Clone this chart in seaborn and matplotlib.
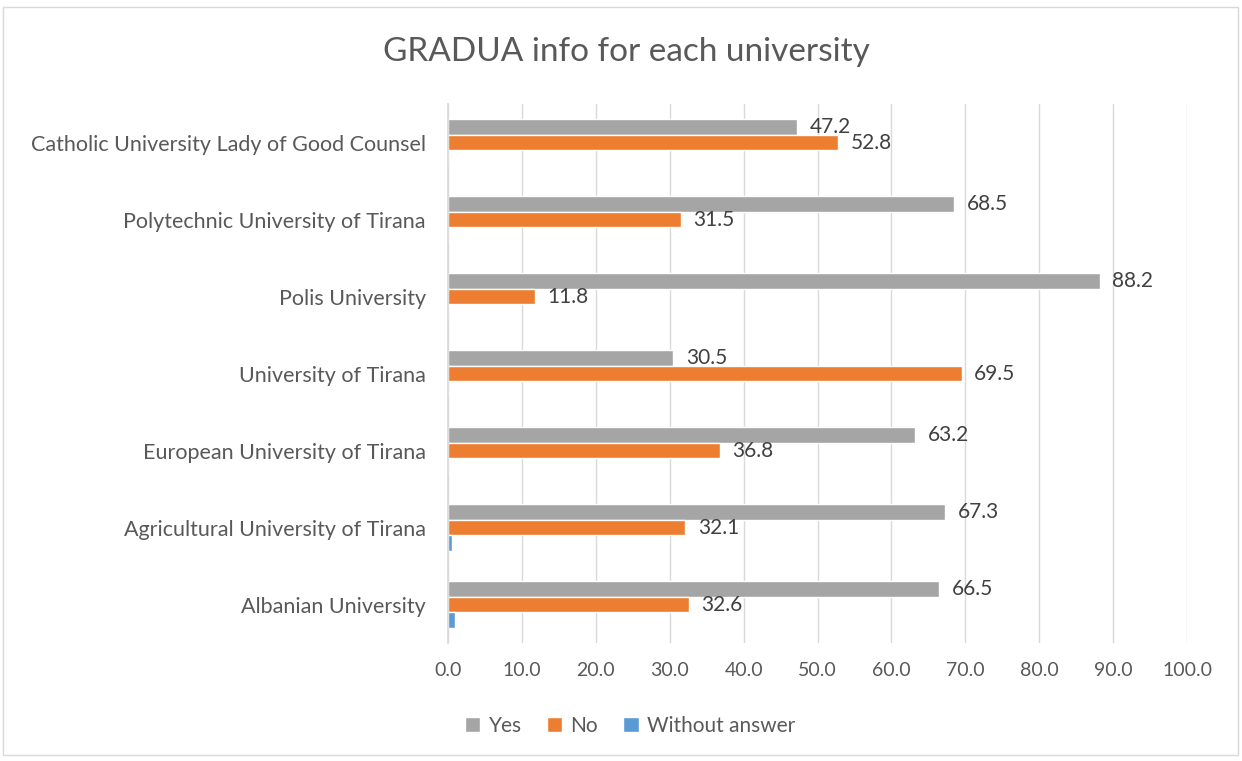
import pandas as pd
import seaborn as sns
import matplotlib.pyplot as plt
from matplotlib.patches import Rectangle

universities = [
    "Catholic University Lady of Good Counsel",
    "Polytechnic University of Tirana",
    "Polis University",
    "University of Tirana",
    "European University of Tirana",
    "Agricultural University of Tirana",
    "Albanian University",
]
yes = [47.2, 68.5, 88.2, 30.5, 63.2, 67.3, 66.5]
no = [52.8, 31.5, 11.8, 69.5, 36.8, 32.1, 32.6]
without_answer = [0.0, 0.0, 0.0, 0.0, 0.0, 0.6, 0.9]

series = ["Yes", "No", "Without answer"]
colors = ["#A5A5A5", "#ED7D31", "#5B9BD5"]
text_color = "#595959"

# long-form table for seaborn
df = pd.DataFrame({
    "university": universities * 3,
    "answer": ["Yes"] * 7 + ["No"] * 7 + ["Without answer"] * 7,
    "value": yes + no + without_answer,
})

sns.set_theme(style="white")
plt.rcParams["font.family"] = ["Lato", "DejaVu Sans"]

fig = plt.figure(figsize=(12.42, 7.61), dpi=100)
ax = fig.add_axes([448 / 1242, 1 - 643 / 761, (1187 - 448) / 1242, (643 - 104) / 761])

sns.barplot(data=df, y="university", x="value", hue="answer", hue_order=series,
            palette=colors, orient="h", width=0.62, ax=ax, legend=True, saturation=1)

# data labels for Yes and No only
for cont in ax.containers[:2]:
    ax.bar_label(cont, fmt="%.1f", padding=9, fontsize=15, color="#404040")

ax.set_xlim(0, 100)
ax.set_xticks(range(0, 101, 10))
ax.set_xticklabels([f"{v:.1f}" for v in range(0, 101, 10)])
ax.set_xlabel("")
ax.set_ylabel("")
ax.grid(axis="x", color="#D9D9D9", linewidth=1)
ax.set_axisbelow(True)
for side in ["top", "right", "bottom"]:
    ax.spines[side].set_visible(False)
ax.spines["left"].set_color("#D9D9D9")
ax.tick_params(axis="x", labelsize=14, colors=text_color, length=0, pad=14)
ax.tick_params(axis="y", labelsize=15.5, colors=text_color, length=0, pad=16)

ax.legend(loc="center", ncol=3, frameon=False,
          fontsize=15, labelcolor=text_color, handlelength=0.75, handleheight=0.75,
          handletextpad=0.4, columnspacing=1.2,
          bbox_to_anchor=(630 / 1242, 1 - 726 / 761), bbox_transform=fig.transFigure)

fig.text(626 / 1242, 1 - 52 / 761, "GRADUA info for each university",
         ha="center", va="center", fontsize=24, color=text_color)

# chart border
fig.patches.append(Rectangle((3 / 1242, 1 - 755 / 761), 1235 / 1242, 748 / 761,
                             transform=fig.transFigure, fill=False,
                             edgecolor="#D9D9D9", linewidth=1))

fig.savefig("out.png", dpi=100)
